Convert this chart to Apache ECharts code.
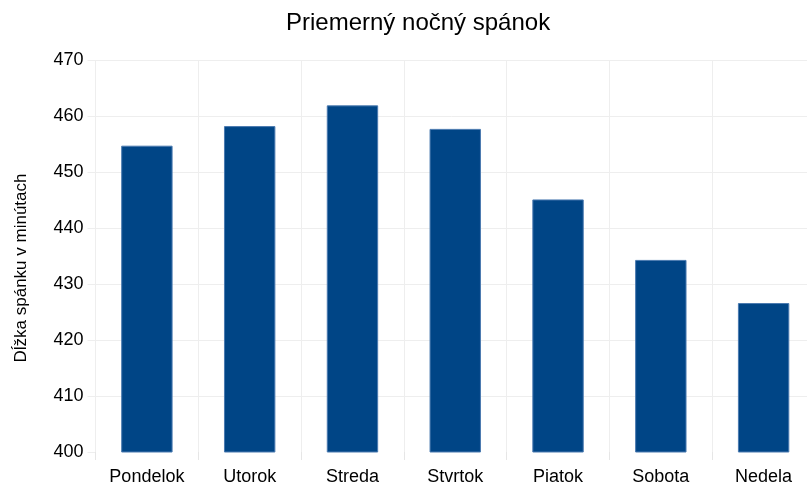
<!DOCTYPE html>
<html>
<head>
<meta charset="utf-8">
<script src="https://cdn.jsdelivr.net/npm/echarts@6/dist/echarts.min.js"></script>
<style>
  html, body { margin: 0; padding: 0; background: #fff; }
  #chart { width: 807px; height: 488px; }
</style>
</head>
<body>
<div id="chart"></div>
<script>
// Average nightly sleep per weekday, in minutes
const days = ['Pondelok', 'Utorok', 'Streda', 'Stvrtok', 'Piatok', 'Sobota', 'Nedela'];
const sleepMinutes = [454.7, 458.2, 461.9, 457.7, 445.1, 434.3, 426.6];
const yTicks = { min: 400, max: 470, step: 10 };

const chart = echarts.init(document.getElementById('chart'), null, { renderer: 'canvas' });
const font = '"Liberation Sans", Arial, sans-serif';

chart.setOption({
  animation: false,
  textStyle: { fontFamily: font },
  title: {
    text: 'Priemerný nočný spánok',
    left: 281,
    top: 6,
    textStyle: { fontFamily: font, fontSize: 24, fontWeight: 'normal', color: '#000' }
  },
  // the plot area runs a little past the right edge of the canvas
  grid: {
    left: 95.5, width: 719.5, top: 60, bottom: 36,
    containLabel: false, outerBoundsMode: 'none'
  },
  xAxis: {
    type: 'category',
    data: days,
    axisLine: { show: false },
    axisTick: { show: true, length: 8, lineStyle: { color: '#e6e6e6' } },
    axisLabel: { fontFamily: font, fontSize: 18, color: '#000', margin: 16 },
    splitLine: { show: true, lineStyle: { color: '#eeeeee', width: 1 } }
  },
  yAxis: {
    type: 'value',
    min: yTicks.min,
    max: yTicks.max,
    interval: yTicks.step,
    name: 'Dĺžka spánku v minútach',
    nameLocation: 'middle',
    nameGap: 66,
    nameTextStyle: { fontFamily: font, fontSize: 17, color: '#000', padding: [0, 24, 0, 0] },
    axisLine: { show: false },
    axisTick: { show: true, length: 8, lineStyle: { color: '#eeeeee' } },
    axisLabel: { fontFamily: font, fontSize: 18, color: '#000', margin: 12 },
    splitLine: { show: true, showMinLine: false, lineStyle: { color: '#eeeeee', width: 1 } }
  },
  series: [{
    type: 'bar',
    data: sleepMinutes,
    barWidth: '50%',
    itemStyle: { color: '#004586', borderColor: '#4a7ab0', borderWidth: 1 }
  }]
});
</script>
</body>
</html>
